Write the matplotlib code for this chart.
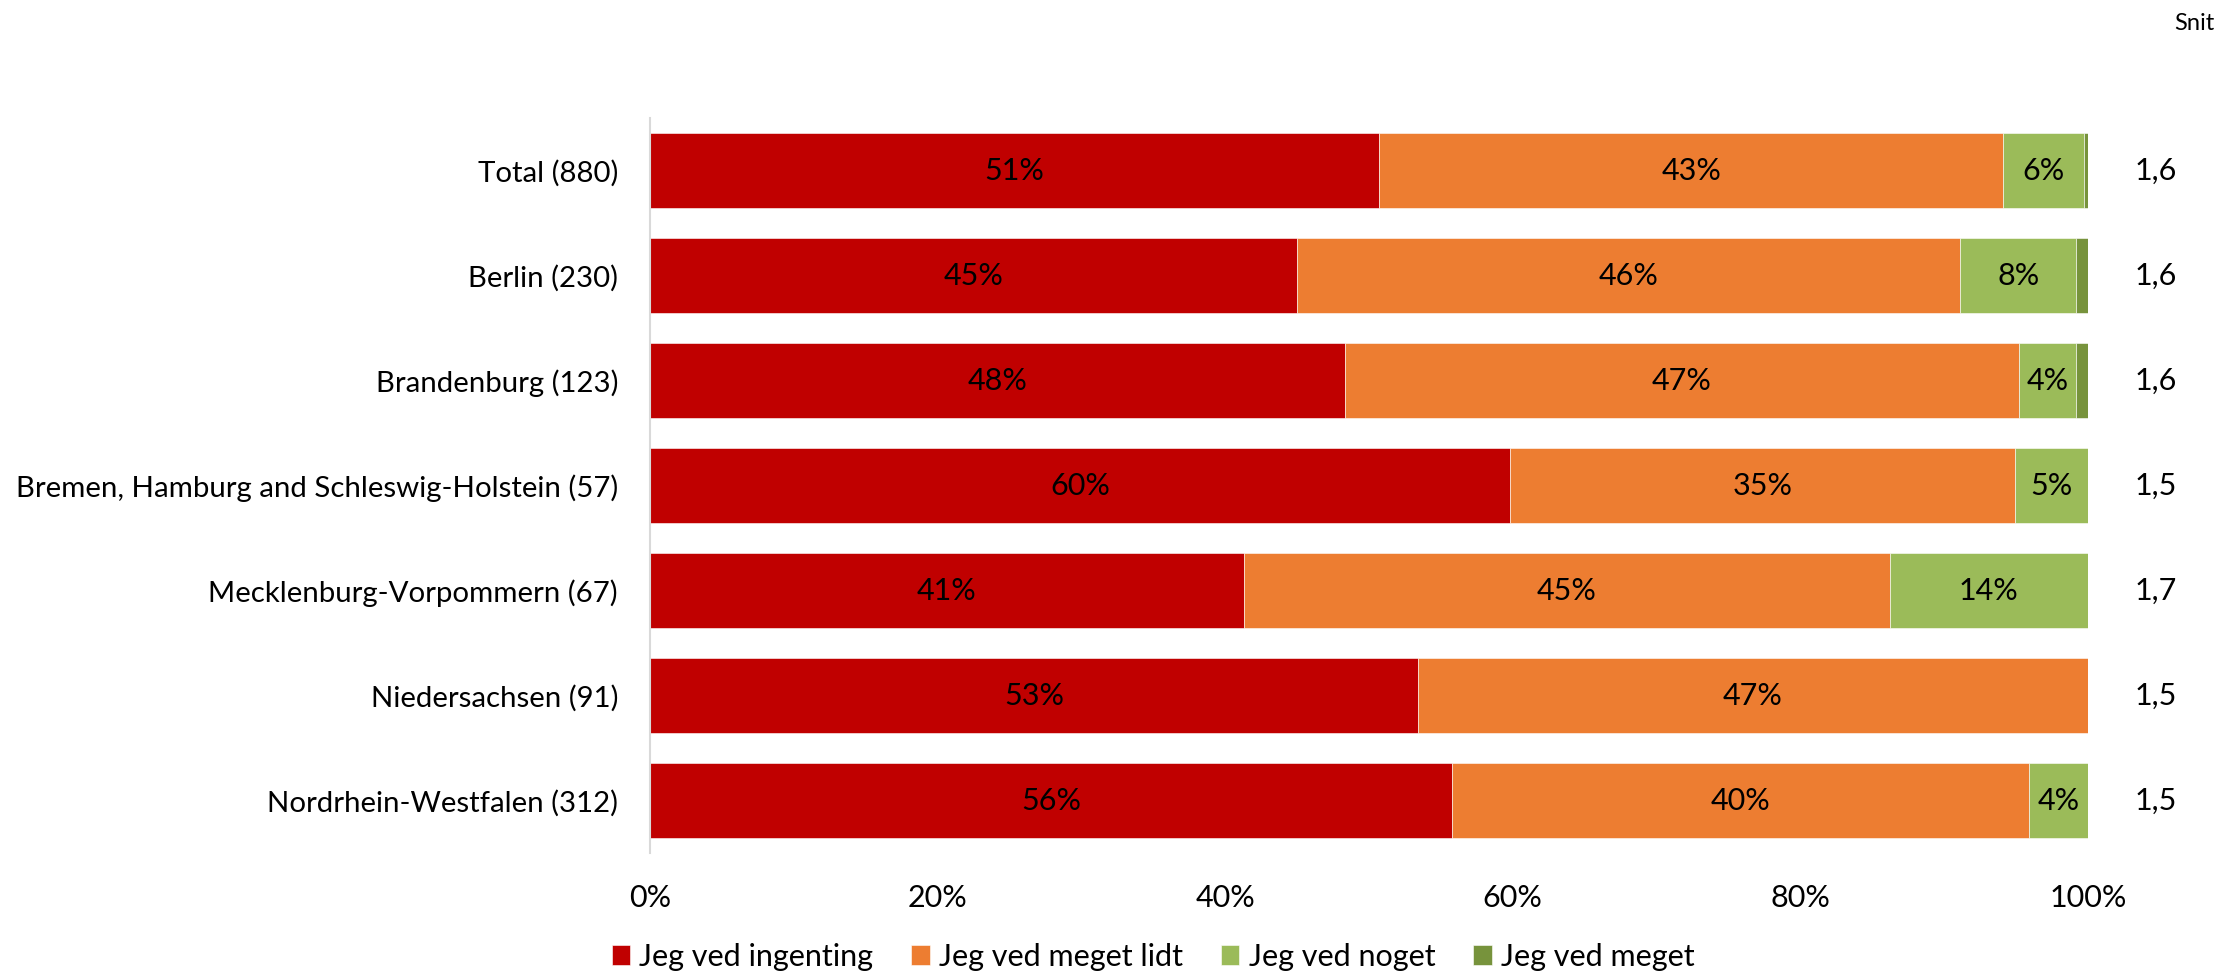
import matplotlib
matplotlib.use("Agg")
import matplotlib.pyplot as plt
import numpy as np

plt.rcParams['font.family'] = ['Lato', 'DejaVu Sans']

categories = ["Total (880)", "Berlin (230)", "Brandenburg (123)",
              "Bremen, Hamburg and Schleswig-Holstein (57)",
              "Mecklenburg-Vorpommern (67)", "Niedersachsen (91)",
              "Nordrhein-Westfalen (312)"]
series_names = ["Jeg ved ingenting", "Jeg ved meget lidt", "Jeg ved noget", "Jeg ved meget"]
ingenting = [50.7, 45.0, 48.3, 59.8, 41.3, 53.4, 55.8]
meget_lidt = [43.4, 46.1, 46.9, 35.1, 44.9, 46.6, 40.1]
noget = [5.6, 8.1, 4.0, 5.1, 13.8, 0.0, 4.1]
meget = [0.3, 0.8, 0.8, 0.0, 0.0, 0.0, 0.0]
snit = ["1,6", "1,6", "1,6", "1,5", "1,7", "1,5", "1,5"]
xticks = [0, 20, 40, 60, 80, 100]
colors = ["#C00000", "#ED7D31", "#9BBB59", "#77933C"]

fig = plt.figure(figsize=(22.24, 9.75), dpi=100)
ax = fig.add_axes([650/2224, 1-853/975, 1438/2224, 735/975])

y = np.arange(len(categories))
left = np.zeros(len(categories))
for vals, name, col in zip([ingenting, meget_lidt, noget, meget], series_names, colors):
    v = np.array(vals)
    ax.barh(y, v, left=left, height=0.715, color=col, label=name,
            edgecolor="white", linewidth=0.4)
    for yi, (l, w) in enumerate(zip(left, v)):
        if w >= 3:
            ax.text(l + w/2, yi, f"{round(w):.0f}%", ha="center", va="center",
                    fontsize=22, color="black")
    left += v

ax.set_xlim(0, 100)
ax.set_ylim(len(categories) - 0.5, -0.5)
ax.set_yticks(y)
ax.set_yticklabels(categories, fontsize=21.2)
ax.set_xticks(xticks)
ax.set_xticklabels([f"{t}%" for t in xticks], fontsize=22)
ax.tick_params(axis="both", length=0)
ax.tick_params(axis="y", pad=23)
ax.tick_params(axis="x", pad=22)
for s in ["top", "right", "bottom"]:
    ax.spines[s].set_visible(False)
ax.spines["left"].set_color("#D9D9D9")
ax.spines["left"].set_linewidth(1.5)

for yi, s in enumerate(snit):
    ax.text(104.7, yi, s, ha="center", va="center", fontsize=22, clip_on=False)
fig.text(2194/2224, 1-24/975, "Snit", ha="center", va="center", fontsize=17)

fig.legend(loc="center", bbox_to_anchor=(0.5185, 0.0185), ncol=4, frameon=False,
           fontsize=22, handlelength=0.6, handleheight=0.6, handletextpad=0.3,
           columnspacing=1.25)

fig.savefig("out.png", dpi=100)
